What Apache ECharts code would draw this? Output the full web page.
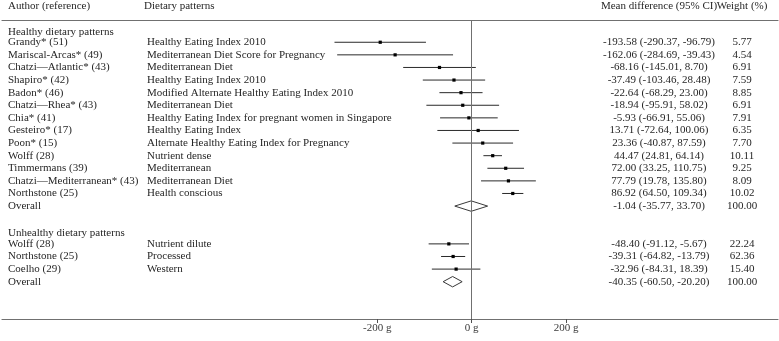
<!DOCTYPE html>
<html>
<head>
<meta charset="utf-8">
<script src="https://cdn.jsdelivr.net/npm/echarts@6/dist/echarts.min.js"></script>
<style>html,body{margin:0;padding:0;background:#fff}#chart{width:779px;height:341px}</style>
</head>
<body>
<div id="chart"></div>
<script>
// ---- data ----
const headers = ['Author (reference)', 'Dietary patterns', 'Mean difference (95% CI)', 'Weight (%)'];
const groupLabels = ['Healthy dietary patterns', 'Unhealthy dietary patterns'];

const healthyAuthors = ['Grandy* (51)', 'Mariscal-Arcas* (49)', 'Chatzi\u2014Atlantic* (43)', 'Shapiro* (42)', 'Badon* (46)', 'Chatzi\u2014Rhea* (43)', 'Chia* (41)', 'Gesteiro* (17)', 'Poon* (15)', 'Wolff (28)', 'Timmermans (39)', 'Chatzi\u2014Mediterranean* (43)', 'Northstone (25)'];
const healthyPatterns = ['Healthy Eating Index 2010', 'Mediterranean Diet Score for Pregnancy', 'Mediterranean Diet', 'Healthy Eating Index 2010', 'Modified Alternate Healthy Eating Index 2010', 'Mediterranean Diet', 'Healthy Eating Index for pregnant women in Singapore', 'Healthy Eating Index', 'Alternate Healthy Eating Index for Pregnancy', 'Nutrient dense', 'Mediterranean', 'Mediterranean Diet', 'Health conscious'];
const healthyMean = [-193.58, -162.06, -68.16, -37.49, -22.64, -18.94, -5.93, 13.71, 23.36, 44.47, 72.00, 77.79, 86.92];
const healthyLower = [-290.37, -284.69, -145.01, -103.46, -68.29, -95.91, -66.91, -72.64, -40.87, 24.81, 33.25, 19.78, 64.50];
const healthyUpper = [-96.79, -39.43, 8.70, 28.48, 23.00, 58.02, 55.06, 100.06, 87.59, 64.14, 110.75, 135.80, 109.34];
const healthyWeight = [5.77, 4.54, 6.91, 7.59, 8.85, 6.91, 7.91, 6.35, 7.70, 10.11, 9.25, 8.09, 10.02];
const healthyOverall = [-1.04, -35.77, 33.70, 100.00]; // mean, lower, upper, weight

const unhealthyAuthors = ['Wolff (28)', 'Northstone (25)', 'Coelho (29)'];
const unhealthyPatterns = ['Nutrient dilute', 'Processed', 'Western'];
const unhealthyMean = [-48.40, -39.31, -32.96];
const unhealthyLower = [-91.12, -64.82, -84.31];
const unhealthyUpper = [-5.67, -13.79, 18.39];
const unhealthyWeight = [22.24, 62.36, 15.40];
const unhealthyOverall = [-40.35, -60.50, -20.20, 100.00];

const tickValues = [-200, 0, 200];
const tickLabels = ['-200 g', '0 g', '200 g'];

// ---- layout ----
const FONT = '11px "Liberation Serif", "Times New Roman", serif';
const TXT = '#262626';
const COL_AUTHOR = 8, COL_PATTERN = 147, COL_HEAD_PATTERN = 144, COL_MEAN = 659, COL_WEIGHT = 742;
const ROW_HEADER = -2.88;
const fmt = v => v.toFixed(2);
const ciText = (m, l, u) => fmt(m) + ' (' + fmt(l) + ', ' + fmt(u) + ')';

// rows
const rows = []; // {k, author, pattern, mean, lo, hi, w, type}
rows.push({k: -0.78, author: groupLabels[0], type: 'label'});
healthyAuthors.forEach((a, i) => rows.push({k: i, author: a, pattern: healthyPatterns[i], mean: healthyMean[i], lo: healthyLower[i], hi: healthyUpper[i], w: healthyWeight[i], type: 'study'}));
const hk = healthyAuthors.length;
rows.push({k: hk, author: 'Overall', mean: healthyOverall[0], lo: healthyOverall[1], hi: healthyOverall[2], w: healthyOverall[3], type: 'overall'});
const uStart = hk + 3;
rows.push({k: uStart - 0.88, author: groupLabels[1], type: 'label'});
unhealthyAuthors.forEach((a, i) => rows.push({k: uStart + i, author: a, pattern: unhealthyPatterns[i], mean: unhealthyMean[i], lo: unhealthyLower[i], hi: unhealthyUpper[i], w: unhealthyWeight[i], type: 'study'}));
rows.push({k: uStart + unhealthyAuthors.length, author: 'Overall', mean: unhealthyOverall[0], lo: unhealthyOverall[1], hi: unhealthyOverall[2], w: unhealthyOverall[3], type: 'overall'});

// text items: [xPixel, k, text, align]
const texts = [];
texts.push([COL_AUTHOR, ROW_HEADER, headers[0], 'left']);
texts.push([COL_HEAD_PATTERN, ROW_HEADER, headers[1], 'left']);
texts.push([COL_MEAN, ROW_HEADER, headers[2], 'center']);
texts.push([COL_WEIGHT, ROW_HEADER, headers[3], 'center']);
rows.forEach(r => {
  texts.push([COL_AUTHOR, r.k, r.author, 'left']);
  if (r.pattern) texts.push([COL_PATTERN, r.k, r.pattern, 'left']);
  if (r.type !== 'label') {
    texts.push([COL_MEAN, r.k, ciText(r.mean, r.lo, r.hi), 'center']);
    texts.push([COL_WEIGHT, r.k, fmt(r.w), 'center']);
  }
});

const studies = rows.filter(r => r.type === 'study').map(r => [r.lo, r.hi, r.mean, r.k]);
const overalls = rows.filter(r => r.type === 'overall').map(r => [r.lo, r.hi, r.mean, r.k]);

const X_MIN = -994.1, X_MAX = 648.3;
const Y_MIN = -1.71, Y_MAX = 21.96;

const chart = echarts.init(document.getElementById('chart'), null, {renderer: 'canvas'});
chart.setOption({
  animation: false,
  backgroundColor: '#fff',
  grid: {left: 2, right: 1, top: 20.7, bottom: 22, containLabel: false},
  xAxis: [
    {
      type: 'value', min: X_MIN, max: X_MAX, position: 'bottom',
      splitLine: {show: false},
      axisLine: {show: true, onZero: false, lineStyle: {color: '#707070', width: 1.2}},
      axisTick: {show: true, inside: false, length: 4, customValues: tickValues, lineStyle: {color: '#505050'}},
      axisLabel: {show: true, customValues: tickValues, margin: 4, color: '#3a3a3a', fontFamily: '"Liberation Serif", serif', fontSize: 11,
        formatter: v => tickLabels[tickValues.indexOf(v)] || ''}
    },
    {
      type: 'value', min: X_MIN, max: X_MAX, position: 'top',
      splitLine: {show: false},
      axisLine: {show: true, onZero: false, lineStyle: {color: '#707070', width: 1.2}},
      axisTick: {show: false}, axisLabel: {show: false}
    },
    {
      type: 'value', min: 2, max: 778, show: false
    }
  ],
  yAxis: [{type: 'value', inverse: true, min: Y_MIN, max: Y_MAX, show: false}],
  series: [
    {
      type: 'custom', xAxisIndex: 0, yAxisIndex: 0,
      data: studies,
      renderItem: (params, api) => {
        const a = api.coord([api.value(0), api.value(3)]);
        const b = api.coord([api.value(1), api.value(3)]);
        const m = api.coord([api.value(2), api.value(3)]);
        return {type: 'group', children: [
          {type: 'line', shape: {x1: a[0], y1: a[1], x2: b[0], y2: b[1]}, style: {stroke: '#2a2a2a', lineWidth: 1}},
          {type: 'rect', shape: {x: m[0] - 1.6, y: m[1] - 1.6, width: 3.2, height: 3.2}, style: {fill: '#000'}}
        ]};
      },
      markLine: {
        silent: true, symbol: 'none', label: {show: false},
        lineStyle: {color: '#707070', width: 1, type: 'solid'},
        data: [{xAxis: 0}]
      },
      z: 3
    },
    {
      type: 'custom', xAxisIndex: 0, yAxisIndex: 0,
      data: overalls,
      renderItem: (params, api) => {
        const a = api.coord([api.value(0), api.value(3)]);
        const b = api.coord([api.value(1), api.value(3)]);
        const m = api.coord([api.value(2), api.value(3)]);
        const h = 5.2;
        return {type: 'polygon', shape: {points: [[a[0], a[1]], [m[0], m[1] - h], [b[0], b[1]], [m[0], m[1] + h]]},
          style: {fill: '#fff', stroke: '#3a3a3a', lineWidth: 1}};
      },
      z: 4
    },
    {
      type: 'custom', xAxisIndex: 2, yAxisIndex: 0,
      data: texts.map(t => [t[0], t[1]]),
      renderItem: (params, api) => {
        const p = api.coord([api.value(0), api.value(1)]);
        const t = texts[params.dataIndex];
        return {type: 'text', x: p[0], y: p[1], style: {text: t[2], font: FONT, fill: TXT, align: t[3], verticalAlign: 'middle'}};
      },
      z: 5
    }
  ]
});
</script>
</body>
</html>
